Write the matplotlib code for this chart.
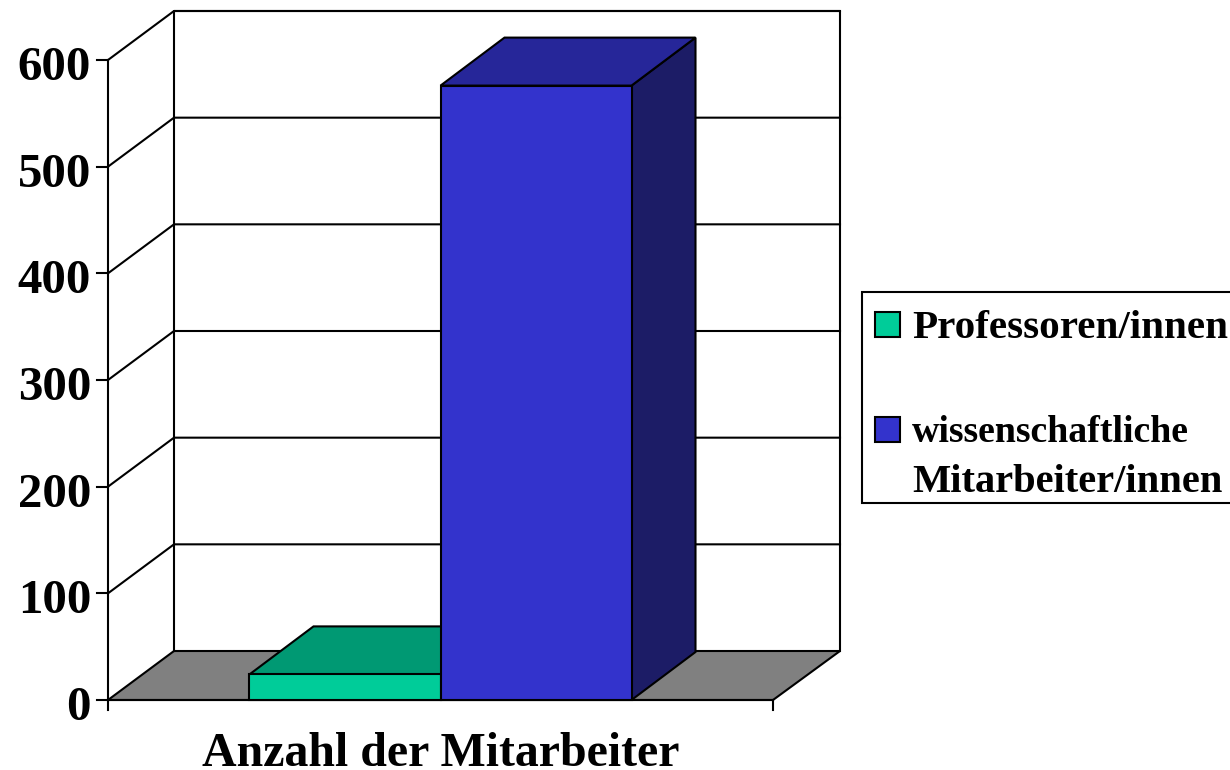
import matplotlib
matplotlib.use("Agg")
import matplotlib.pyplot as plt
from matplotlib.patches import Polygon, Rectangle

categories = ["Anzahl der Mitarbeiter"]
series_names = ["Professoren/innen", "wissenschaftliche\nMitarbeiter/innen"]
series_values = [24, 576]
y_ticks = [0, 100, 200, 300, 400, 500, 600]

front_colors = ["#00CC99", "#3333CC"]
top_colors = ["#009973", "#262699"]
side_colors = ["#007A5C", "#1C1C66"]

W, H = 1230, 770
plt.rcParams["font.family"] = ["Liberation Serif", "DejaVu Serif"]
plt.rcParams["font.weight"] = "bold"
fig = plt.figure(figsize=(W / 100, H / 100), dpi=100)
L, R, B, T = 108, 773, 700, 60
ax = fig.add_axes([L / W, 1 - B / H, (R - L) / W, (B - T) / H])
ax.set_xlim(0, 1)
ax.set_ylim(0, 600)
ax.axis("off")

px_x = 1 / (R - L)
px_y = 600 / (B - T)
dx = 66 * px_x
wall_right = 1 + 67 * px_x
dy = 49 * px_y
bar_dx = 64 * px_x
bar_dy = 48 * px_y
bar_w = 191 * px_x
lw = 1.5
k = "black"
kw = dict(clip_on=False, edgecolor=k, linewidth=lw, joinstyle="miter")

# floor, walls and grid
ax.add_patch(Polygon([(0, 0), (1, 0), (wall_right, dy), (dx, dy)], closed=True,
                     facecolor="#808080", zorder=1, **kw))
ax.plot([dx, dx, wall_right, wall_right], [dy, 600 + dy, 600 + dy, dy], color=k, lw=lw, clip_on=False, zorder=2)
ax.plot([0, 0], [0, 600], color=k, lw=lw, clip_on=False, zorder=2)
for t in y_ticks:
    if t:
        ax.plot([0, dx, wall_right], [t, t + dy, t + dy], color=k, lw=lw, clip_on=False, zorder=2)
    ax.plot([-11 * px_x, 0], [t, t], color=k, lw=lw, clip_on=False, zorder=2)
    ax.text(-17 * px_x, t - 20 * px_y, str(t), ha="right", va="baseline", fontsize=35.2, fontweight="bold")
ax.plot([0, 1], [0, 0], color=k, lw=lw, clip_on=False, zorder=2)
for x in (0, 1):
    ax.plot([x, x], [0, -10 * px_y], color=k, lw=lw, clip_on=False, zorder=2)
ax.text(0.5, -66 * px_y, categories[0], ha="center", va="baseline", fontsize=34.5, fontweight="bold")

# bars
x0 = 0.5 - bar_w
for i, v in enumerate(series_values):
    x = x0 + i * bar_w
    ax.add_patch(Polygon([(x + bar_w, 0), (x + bar_w + bar_dx, bar_dy), (x + bar_w + bar_dx, v + bar_dy), (x + bar_w, v)],
                         closed=True, facecolor=side_colors[i], zorder=3 + i, **kw))
    ax.add_patch(Polygon([(x, v), (x + bar_dx, v + bar_dy), (x + bar_w + bar_dx, v + bar_dy), (x + bar_w, v)],
                         closed=True, facecolor=top_colors[i], zorder=3 + i, **kw))
    ax.add_patch(Rectangle((x, 0), bar_w, v, facecolor=front_colors[i], zorder=3 + i, **kw))

# legend
def px(x, y, w=0, h=0):
    return Rectangle((x / W, 1 - (y + h) / H), w / W, h / H, transform=fig.transFigure)

box = px(862, 292, 400, 211)
box.set(facecolor="white", edgecolor=k, linewidth=lw)
fig.add_artist(box)
for col, sy in zip(front_colors, (312, 417)):
    sw = px(875, sy, 25, 25)
    sw.set(facecolor=col, edgecolor=k, linewidth=lw)
    fig.add_artist(sw)

lines = series_names[0].split("\n") + series_names[1].split("\n")
for line, baseline, size in zip(lines, (338, 442, 492), (29.6, 27.2, 29.2)):
    fig.text(912 / W, 1 - baseline / H, line, ha="left", va="baseline", fontsize=size, fontweight="bold")

fig.savefig("out.png", dpi=100)
